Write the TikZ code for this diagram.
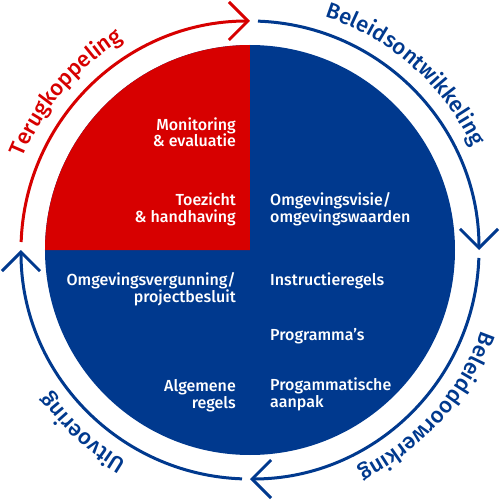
\documentclass[tikz,border=0pt]{standalone}
\usepackage{fontspec}
\setmainfont{Fira Sans}
\newfontfamily\fm{Fira Sans Medium}
\usetikzlibrary{arrows.meta,decorations.text}
\definecolor{cred}{RGB}{215,0,0}
\definecolor{cblue}{RGB}{0,57,142}
\tikzset{
  ring/.style={line width=3pt, -{Straight Barb[length=19pt,width=38pt]}},
  inner/.style={text=white, font=\fm\fontsize{16}{17}\selectfont, inner sep=0pt},
  lt/.style={inner, align=right, anchor=base east},
  rt/.style={inner, align=left, anchor=base west},
}
\newcommand{\arcfont}{\fm\fontsize{22}{26}\selectfont}
\begin{document}
\begin{tikzpicture}[x=1pt,y=1pt]
\useasboundingbox (-250,-251) rectangle (250,250);
\fill[white] (-250,-251) rectangle (250,250);
% disc
\fill[cblue] (0,0) circle[radius=205];
\fill[cred] (0,0) -- (-205,0) arc[start angle=180, end angle=90, radius=205] -- cycle;
% ring arrows
\draw[ring, cred] (178:229) arc[start angle=178, end angle=90, radius=229];
\draw[ring, cblue] (88:229) arc[start angle=88, end angle=0, radius=229];
\draw[ring, cblue] (-2:229) arc[start angle=-2, end angle=-90, radius=229];
\draw[ring, cblue] (-92:229) arc[start angle=-92, end angle=-180, radius=229];
% ring labels
\path[decorate, decoration={text along path, text align=center,
  text={|\arcfont\color{cred}|Terugkoppeling}}]
  (179.5:245) arc[start angle=179.5, end angle=99.5, radius=245];
\path[decorate, decoration={text along path, text align=center,
  text={|\arcfont\color{cblue}|Beleidsontwikkeling}}]
  (88.5:245) arc[start angle=88.5, end angle=8.5, radius=245];
\path[decorate, decoration={text along path, text align=center,
  text={|\arcfont\color{cblue}|Beleiddoorwerking}}]
  (-1.5:245) arc[start angle=-1.5, end angle=-81.5, radius=245];
\path[decorate, decoration={text along path, text align=center,
  text={|\arcfont\color{cblue}|Uitvoering}}]
  (267.5:245) arc[start angle=267.5, end angle=187.5, radius=245];
% inner texts
\node[lt] (mon) at (-14,103) {Monitoring\\\& evaluatie};
\node[lt] (toe) at (-14,28) {Toezicht\\\& handhaving};
\node[rt] (ovi) at (20,28) {Omgevingsvisie/\\omgevingswaarden};
\node[rt] (ins) at (20,-35) {Instructieregels};
\node[rt] (pro) at (20,-90) {Programma’s};
\node[rt] (paa) at (20,-157) {Progammatische\\aanpak};
\node[lt] (ovg) at (-14,-52) {Omgevingsvergunning/\\projectbesluit};
\node[lt] (alg) at (-14,-158) {Algemene\\regels};
\end{tikzpicture}
\end{document}
